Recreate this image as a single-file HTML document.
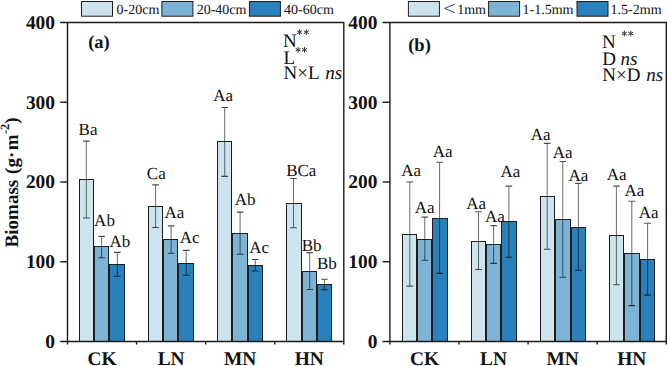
<!DOCTYPE html>
<html><head><meta charset="utf-8"><style>
html,body{margin:0;padding:0;background:#fff;}
svg{display:block;}
text{font-family:"Liberation Serif",serif;fill:#111;text-rendering:geometricPrecision;}
</style></head><body>
<svg width="668" height="366" viewBox="0 0 668 366">
<rect x="79.50" y="179.50" width="14.00" height="162.00" fill="#cde4ee" stroke="#1e1e1e" stroke-width="1"/>
<rect x="94.50" y="246.50" width="14.00" height="95.00" fill="#7db4d6" stroke="#1e1e1e" stroke-width="1"/>
<rect x="109.50" y="264.50" width="15.00" height="77.00" fill="#2a80bc" stroke="#1e1e1e" stroke-width="1"/>
<path d="M86.30 141.60V217.50" stroke="#000" stroke-opacity="0.58" stroke-width="1" fill="none"/>
<path d="M83.00 141.10H89.60M83.00 218.00H89.60" stroke="#000" stroke-opacity="0.7" stroke-width="1.1" fill="none"/>
<path d="M101.60 236.90V257.30" stroke="#000" stroke-opacity="0.58" stroke-width="1" fill="none"/>
<path d="M98.30 236.40H104.90M98.30 257.80H104.90" stroke="#000" stroke-opacity="0.7" stroke-width="1.1" fill="none"/>
<path d="M117.30 252.90V275.70" stroke="#000" stroke-opacity="0.58" stroke-width="1" fill="none"/>
<path d="M114.00 252.40H120.60M114.00 276.20H120.60" stroke="#000" stroke-opacity="0.7" stroke-width="1.1" fill="none"/>
<text x="88.00" y="135.40" text-anchor="middle" font-size="17">Ba</text>
<text x="104.50" y="225.80" text-anchor="middle" font-size="17">Ab</text>
<text x="119.90" y="246.70" text-anchor="middle" font-size="17">Ab</text>
<rect x="148.50" y="206.50" width="14.00" height="135.00" fill="#cde4ee" stroke="#1e1e1e" stroke-width="1"/>
<rect x="163.50" y="239.50" width="14.00" height="102.00" fill="#7db4d6" stroke="#1e1e1e" stroke-width="1"/>
<rect x="178.50" y="263.50" width="15.00" height="78.00" fill="#2a80bc" stroke="#1e1e1e" stroke-width="1"/>
<path d="M155.60 185.40V227.00" stroke="#000" stroke-opacity="0.58" stroke-width="1" fill="none"/>
<path d="M152.30 184.90H158.90M152.30 227.50H158.90" stroke="#000" stroke-opacity="0.7" stroke-width="1.1" fill="none"/>
<path d="M171.10 226.40V252.80" stroke="#000" stroke-opacity="0.58" stroke-width="1" fill="none"/>
<path d="M167.80 225.90H174.40M167.80 253.30H174.40" stroke="#000" stroke-opacity="0.7" stroke-width="1.1" fill="none"/>
<path d="M186.20 250.90V274.70" stroke="#000" stroke-opacity="0.58" stroke-width="1" fill="none"/>
<path d="M182.90 250.40H189.50M182.90 275.20H189.50" stroke="#000" stroke-opacity="0.7" stroke-width="1.1" fill="none"/>
<text x="156.30" y="179.00" text-anchor="middle" font-size="17">Ca</text>
<text x="174.45" y="218.00" text-anchor="middle" font-size="17">Aa</text>
<text x="189.60" y="243.00" text-anchor="middle" font-size="17">Ac</text>
<rect x="217.50" y="141.50" width="14.00" height="200.00" fill="#cde4ee" stroke="#1e1e1e" stroke-width="1"/>
<rect x="232.50" y="233.50" width="15.00" height="108.00" fill="#7db4d6" stroke="#1e1e1e" stroke-width="1"/>
<rect x="248.50" y="265.50" width="14.00" height="76.00" fill="#2a80bc" stroke="#1e1e1e" stroke-width="1"/>
<path d="M224.70 108.00V175.90" stroke="#000" stroke-opacity="0.58" stroke-width="1" fill="none"/>
<path d="M221.40 107.50H228.00M221.40 176.40H228.00" stroke="#000" stroke-opacity="0.7" stroke-width="1.1" fill="none"/>
<path d="M240.10 212.60V253.80" stroke="#000" stroke-opacity="0.58" stroke-width="1" fill="none"/>
<path d="M236.80 212.10H243.40M236.80 254.30H243.40" stroke="#000" stroke-opacity="0.7" stroke-width="1.1" fill="none"/>
<path d="M255.30 260.00V270.50" stroke="#000" stroke-opacity="0.58" stroke-width="1" fill="none"/>
<path d="M252.00 259.50H258.60M252.00 271.00H258.60" stroke="#000" stroke-opacity="0.7" stroke-width="1.1" fill="none"/>
<text x="223.20" y="101.00" text-anchor="middle" font-size="17">Aa</text>
<text x="245.10" y="205.10" text-anchor="middle" font-size="17">Ab</text>
<text x="259.10" y="253.00" text-anchor="middle" font-size="17">Ac</text>
<rect x="286.50" y="203.50" width="15.00" height="138.00" fill="#cde4ee" stroke="#1e1e1e" stroke-width="1"/>
<rect x="302.50" y="271.50" width="14.00" height="70.00" fill="#7db4d6" stroke="#1e1e1e" stroke-width="1"/>
<rect x="317.50" y="284.50" width="14.00" height="57.00" fill="#2a80bc" stroke="#1e1e1e" stroke-width="1"/>
<path d="M293.50 179.00V227.20" stroke="#000" stroke-opacity="0.58" stroke-width="1" fill="none"/>
<path d="M290.20 178.50H296.80M290.20 227.70H296.80" stroke="#000" stroke-opacity="0.7" stroke-width="1.1" fill="none"/>
<path d="M309.70 253.10V289.00" stroke="#000" stroke-opacity="0.58" stroke-width="1" fill="none"/>
<path d="M306.40 252.60H313.00M306.40 289.50H313.00" stroke="#000" stroke-opacity="0.7" stroke-width="1.1" fill="none"/>
<path d="M324.40 279.70V289.20" stroke="#000" stroke-opacity="0.58" stroke-width="1" fill="none"/>
<path d="M321.10 279.20H327.70M321.10 289.70H327.70" stroke="#000" stroke-opacity="0.7" stroke-width="1.1" fill="none"/>
<text x="301.25" y="175.70" text-anchor="middle" font-size="17">BCa</text>
<text x="311.65" y="251.00" text-anchor="middle" font-size="17">Bb</text>
<text x="326.85" y="269.30" text-anchor="middle" font-size="17">Bb</text>
<path d="M60.20 22.5H343.8V344.5M67.5 22.5V344.5M60.20 341.5H343.8" stroke="#1a1a1a" stroke-width="1.4" fill="none"/>
<path d="M60.20 261.75H67.5" stroke="#1a1a1a" stroke-width="1.4"/>
<path d="M60.20 182.00H67.5" stroke="#1a1a1a" stroke-width="1.4"/>
<path d="M60.20 102.25H67.5" stroke="#1a1a1a" stroke-width="1.4"/>
<path d="M136.57 341.5V344.5" stroke="#1a1a1a" stroke-width="1.4"/>
<path d="M205.65 341.5V344.5" stroke="#1a1a1a" stroke-width="1.4"/>
<path d="M274.73 341.5V344.5" stroke="#1a1a1a" stroke-width="1.4"/>
<text x="55.00" y="347.90" text-anchor="end" font-size="19.4" font-weight="bold">0</text>
<text x="55.00" y="268.15" text-anchor="end" font-size="19.4" font-weight="bold">100</text>
<text x="55.00" y="188.40" text-anchor="end" font-size="19.4" font-weight="bold">200</text>
<text x="55.00" y="108.65" text-anchor="end" font-size="19.4" font-weight="bold">300</text>
<text x="55.00" y="28.90" text-anchor="end" font-size="19.4" font-weight="bold">400</text>
<text x="102.04" y="364.6" text-anchor="middle" font-size="19.4" font-weight="bold">CK</text>
<text x="171.11" y="364.6" text-anchor="middle" font-size="19.4" font-weight="bold">LN</text>
<text x="240.19" y="364.6" text-anchor="middle" font-size="19.4" font-weight="bold">MN</text>
<text x="309.26" y="364.6" text-anchor="middle" font-size="19.4" font-weight="bold">HN</text>
<rect x="402.50" y="234.50" width="14.00" height="107.00" fill="#cde4ee" stroke="#1e1e1e" stroke-width="1"/>
<rect x="417.50" y="239.50" width="14.00" height="102.00" fill="#7db4d6" stroke="#1e1e1e" stroke-width="1"/>
<rect x="432.50" y="218.50" width="15.00" height="123.00" fill="#2a80bc" stroke="#1e1e1e" stroke-width="1"/>
<path d="M409.80 182.50V285.60" stroke="#000" stroke-opacity="0.58" stroke-width="1" fill="none"/>
<path d="M406.50 182.00H413.10M406.50 286.10H413.10" stroke="#000" stroke-opacity="0.7" stroke-width="1.1" fill="none"/>
<path d="M424.80 217.60V259.80" stroke="#000" stroke-opacity="0.58" stroke-width="1" fill="none"/>
<path d="M421.50 217.10H428.10M421.50 260.30H428.10" stroke="#000" stroke-opacity="0.7" stroke-width="1.1" fill="none"/>
<path d="M439.60 162.80V272.90" stroke="#000" stroke-opacity="0.58" stroke-width="1" fill="none"/>
<path d="M436.30 162.30H442.90M436.30 273.40H442.90" stroke="#000" stroke-opacity="0.7" stroke-width="1.1" fill="none"/>
<text x="411.25" y="175.90" text-anchor="middle" font-size="17">Aa</text>
<text x="424.65" y="212.70" text-anchor="middle" font-size="17">Aa</text>
<text x="442.70" y="156.90" text-anchor="middle" font-size="17">Aa</text>
<rect x="471.50" y="241.50" width="14.00" height="100.00" fill="#cde4ee" stroke="#1e1e1e" stroke-width="1"/>
<rect x="486.50" y="244.50" width="14.00" height="97.00" fill="#7db4d6" stroke="#1e1e1e" stroke-width="1"/>
<rect x="501.50" y="221.50" width="15.00" height="120.00" fill="#2a80bc" stroke="#1e1e1e" stroke-width="1"/>
<path d="M478.50 212.30V269.00" stroke="#000" stroke-opacity="0.58" stroke-width="1" fill="none"/>
<path d="M475.20 211.80H481.80M475.20 269.50H481.80" stroke="#000" stroke-opacity="0.7" stroke-width="1.1" fill="none"/>
<path d="M493.60 226.10V262.90" stroke="#000" stroke-opacity="0.58" stroke-width="1" fill="none"/>
<path d="M490.30 225.60H496.90M490.30 263.40H496.90" stroke="#000" stroke-opacity="0.7" stroke-width="1.1" fill="none"/>
<path d="M508.90 186.60V256.70" stroke="#000" stroke-opacity="0.58" stroke-width="1" fill="none"/>
<path d="M505.60 186.10H512.20M505.60 257.20H512.20" stroke="#000" stroke-opacity="0.7" stroke-width="1.1" fill="none"/>
<text x="476.25" y="209.30" text-anchor="middle" font-size="17">Aa</text>
<text x="495.00" y="222.00" text-anchor="middle" font-size="17">Aa</text>
<text x="510.30" y="177.00" text-anchor="middle" font-size="17">Aa</text>
<rect x="540.50" y="196.50" width="14.00" height="145.00" fill="#cde4ee" stroke="#1e1e1e" stroke-width="1"/>
<rect x="555.50" y="219.50" width="15.00" height="122.00" fill="#7db4d6" stroke="#1e1e1e" stroke-width="1"/>
<rect x="571.50" y="227.50" width="14.00" height="114.00" fill="#2a80bc" stroke="#1e1e1e" stroke-width="1"/>
<path d="M547.20 143.90V248.80" stroke="#000" stroke-opacity="0.58" stroke-width="1" fill="none"/>
<path d="M543.90 143.40H550.50M543.90 249.30H550.50" stroke="#000" stroke-opacity="0.7" stroke-width="1.1" fill="none"/>
<path d="M562.80 162.00V276.70" stroke="#000" stroke-opacity="0.58" stroke-width="1" fill="none"/>
<path d="M559.50 161.50H566.10M559.50 277.20H566.10" stroke="#000" stroke-opacity="0.7" stroke-width="1.1" fill="none"/>
<path d="M578.40 183.90V269.80" stroke="#000" stroke-opacity="0.58" stroke-width="1" fill="none"/>
<path d="M575.10 183.40H581.70M575.10 270.30H581.70" stroke="#000" stroke-opacity="0.7" stroke-width="1.1" fill="none"/>
<text x="540.65" y="139.90" text-anchor="middle" font-size="17">Aa</text>
<text x="562.65" y="158.40" text-anchor="middle" font-size="17">Aa</text>
<text x="578.45" y="180.50" text-anchor="middle" font-size="17">Aa</text>
<rect x="609.50" y="235.50" width="14.00" height="106.00" fill="#cde4ee" stroke="#1e1e1e" stroke-width="1"/>
<rect x="624.50" y="253.50" width="15.00" height="88.00" fill="#7db4d6" stroke="#1e1e1e" stroke-width="1"/>
<rect x="640.50" y="259.50" width="14.00" height="82.00" fill="#2a80bc" stroke="#1e1e1e" stroke-width="1"/>
<path d="M616.40 186.60V284.20" stroke="#000" stroke-opacity="0.58" stroke-width="1" fill="none"/>
<path d="M613.10 186.10H619.70M613.10 284.70H619.70" stroke="#000" stroke-opacity="0.7" stroke-width="1.1" fill="none"/>
<path d="M631.80 201.80V305.10" stroke="#000" stroke-opacity="0.58" stroke-width="1" fill="none"/>
<path d="M628.50 201.30H635.10M628.50 305.60H635.10" stroke="#000" stroke-opacity="0.7" stroke-width="1.1" fill="none"/>
<path d="M647.60 223.70V294.60" stroke="#000" stroke-opacity="0.58" stroke-width="1" fill="none"/>
<path d="M644.30 223.20H650.90M644.30 295.10H650.90" stroke="#000" stroke-opacity="0.7" stroke-width="1.1" fill="none"/>
<text x="616.55" y="179.50" text-anchor="middle" font-size="17">Aa</text>
<text x="634.45" y="195.90" text-anchor="middle" font-size="17">Aa</text>
<text x="648.70" y="217.60" text-anchor="middle" font-size="17">Aa</text>
<path d="M382.60 22.5H666.3V344.5M389.9 22.5V344.5M382.60 341.5H666.3" stroke="#1a1a1a" stroke-width="1.4" fill="none"/>
<path d="M382.60 261.75H389.9" stroke="#1a1a1a" stroke-width="1.4"/>
<path d="M382.60 182.00H389.9" stroke="#1a1a1a" stroke-width="1.4"/>
<path d="M382.60 102.25H389.9" stroke="#1a1a1a" stroke-width="1.4"/>
<path d="M459.00 341.5V344.5" stroke="#1a1a1a" stroke-width="1.4"/>
<path d="M528.10 341.5V344.5" stroke="#1a1a1a" stroke-width="1.4"/>
<path d="M597.20 341.5V344.5" stroke="#1a1a1a" stroke-width="1.4"/>
<text x="377.40" y="347.90" text-anchor="end" font-size="19.4" font-weight="bold">0</text>
<text x="377.40" y="268.15" text-anchor="end" font-size="19.4" font-weight="bold">100</text>
<text x="377.40" y="188.40" text-anchor="end" font-size="19.4" font-weight="bold">200</text>
<text x="377.40" y="108.65" text-anchor="end" font-size="19.4" font-weight="bold">300</text>
<text x="377.40" y="28.90" text-anchor="end" font-size="19.4" font-weight="bold">400</text>
<text x="424.45" y="364.6" text-anchor="middle" font-size="19.4" font-weight="bold">CK</text>
<text x="493.55" y="364.6" text-anchor="middle" font-size="19.4" font-weight="bold">LN</text>
<text x="562.65" y="364.6" text-anchor="middle" font-size="19.4" font-weight="bold">MN</text>
<text x="631.75" y="364.6" text-anchor="middle" font-size="19.4" font-weight="bold">HN</text>
<text x="88.2" y="48" font-size="18.5" font-weight="bold">(a)</text>
<text x="408.2" y="51" font-size="18.5" font-weight="bold">(b)</text>
<text x="283.0" y="46.8" font-size="19">N</text>
<text x="283.6" y="63.8" font-size="19">L</text>
<text x="283.6" y="79" font-size="19">N×L</text><text x="325.3" y="79" font-size="19" font-style="italic">ns</text>
<text x="601.9" y="47.5" font-size="19">N</text>
<text x="602.3" y="64.7" font-size="19">D</text><text x="620.5" y="64.7" font-size="19" font-style="italic">ns</text>
<text x="602.3" y="80.6" font-size="19">N×D</text><text x="646.2" y="80.6" font-size="19" font-style="italic">ns</text>
<path d="M299.50 29.75V34.65M297.38 30.98L301.62 33.43M297.38 33.43L301.62 30.98M306.30 29.75V34.65M304.18 30.98L308.42 33.43M304.18 33.43L308.42 30.98M298.10 47.35V52.25M295.98 48.57L300.22 51.02M295.98 51.02L300.22 48.57M304.50 47.35V52.25M302.38 48.57L306.62 51.02M302.38 51.02L306.62 48.57M624.40 31.05V35.95M622.28 32.27L626.52 34.73M622.28 34.73L626.52 32.27M630.80 31.05V35.95M628.68 32.27L632.92 34.73M628.68 34.73L632.92 32.27" stroke="#333" stroke-width="1.0" stroke-linecap="round" fill="none"/>
<rect x="81.50" y="1.5" width="31" height="14.7" fill="#cde4ee" stroke="#1e1e1e" stroke-width="1"/>
<text x="116.50" y="13.8" font-size="14">0-20cm</text>
<rect x="161.90" y="1.5" width="31" height="14.7" fill="#7db4d6" stroke="#1e1e1e" stroke-width="1"/>
<text x="196.70" y="13.8" font-size="14">20-40cm</text>
<rect x="249.40" y="1.5" width="31" height="14.7" fill="#2a80bc" stroke="#1e1e1e" stroke-width="1"/>
<text x="284.00" y="13.8" font-size="14">40-60cm</text>
<rect x="408.40" y="1.5" width="31" height="14.7" fill="#cde4ee" stroke="#1e1e1e" stroke-width="1"/>
<text x="457.20" y="13.8" font-size="14">1mm</text>
<rect x="488.60" y="1.5" width="31" height="14.7" fill="#7db4d6" stroke="#1e1e1e" stroke-width="1"/>
<text x="522.50" y="13.8" font-size="14">1-1.5mm</text>
<rect x="577.00" y="1.5" width="31" height="14.7" fill="#2a80bc" stroke="#1e1e1e" stroke-width="1"/>
<text x="610.60" y="13.8" font-size="14">1.5-2mm</text>
<path d="M455 4.1L444.6 8.4L455 12.7" stroke="#333" stroke-width="0.9" fill="none"/>
<text transform="translate(17.5,247.4) rotate(-90)" font-size="19" font-weight="bold">Biomass<tspan dx="1.2"> (g·</tspan><tspan dx="1.5">m</tspan><tspan font-size="12.5" dy="-8.2" dx="0.3">-2</tspan><tspan dy="8.2" dx="0">)</tspan></text>
</svg>
</body></html>
